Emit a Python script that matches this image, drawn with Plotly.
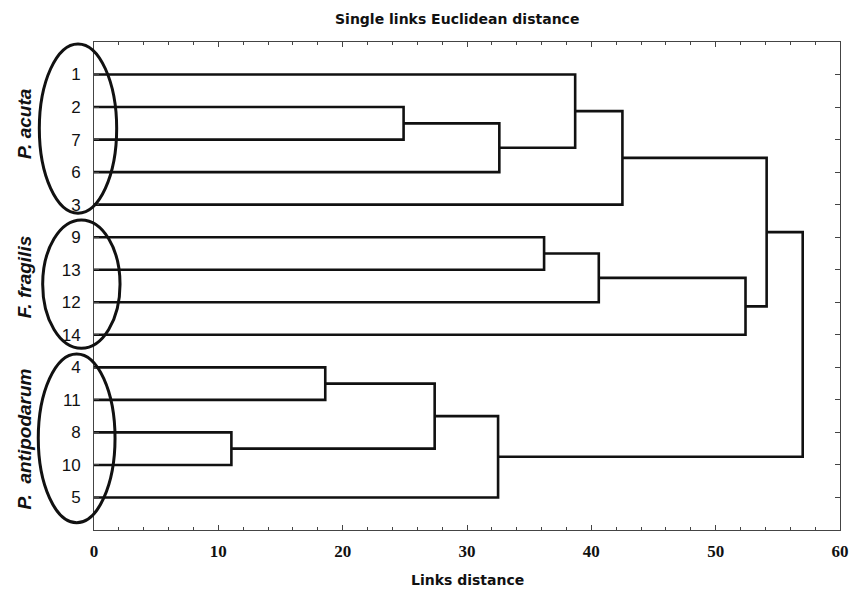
import plotly.graph_objects as go

# ---- data -------------------------------------------------------------
leaf_labels = ["1", "2", "7", "6", "3", "9", "13", "12", "14", "4", "11", "8", "10", "5"]
# merges: (left child, right child, link distance); nodes named n1..n13 in order
merge_left = ["2", "n1", "1", "n3", "9", "n5", "n6", "n4", "4", "8", "n9", "n11", "n8"]
merge_right = ["7", "6", "n2", "3", "13", "12", "14", "n7", "11", "10", "n10", "5", "n12"]
merge_height = [24.9, 32.6, 38.7, 42.5, 36.2, 40.6, 52.4, 54.1, 18.6, 11.05, 27.4, 32.5, 57.0]
group_names = ["P. acuta", "F. fragilis", "P.\u00a0 antipodarum"]
x_ticks = [0, 10, 20, 30, 40, 50, 60]

# ---- build dendrogram coordinates --------------------------------------
pos = {lab: (0.0, i + 1) for i, lab in enumerate(leaf_labels)}
xs, ys = [], []
for k, (a, b, h) in enumerate(zip(merge_left, merge_right, merge_height)):
    xa, ya = pos[a]
    xb, yb = pos[b]
    xs += [xa, h, h, xb, None]
    ys += [ya, ya, yb, yb, None]
    pos[f"n{k + 1}"] = (h, (ya + yb) / 2)

fig = go.Figure()
fig.add_trace(go.Scatter(x=xs, y=ys, mode="lines",
                         line=dict(color="#111111", width=2.6),
                         hoverinfo="skip", showlegend=False))

axis_col = "#444444"
fig.update_layout(
    width=860, height=590,
    margin=dict(l=94, r=20, t=42, b=60, autoexpand=False),
    plot_bgcolor="white", paper_bgcolor="white",
    showlegend=False,
    xaxis=dict(range=[0, 60], tickvals=x_ticks, ticks="inside", ticklen=5,
               tickwidth=1, tickcolor=axis_col,
               minor=dict(dtick=2, tick0=0, ticks="inside", ticklen=3,
                          tickwidth=1, tickcolor=axis_col),
               showline=True, linecolor=axis_col, linewidth=1, mirror="ticks",
               showgrid=False, zeroline=False, ticklabelstandoff=6,
               tickfont=dict(family="Liberation Serif", size=17, color="#111111",
                             weight="bold")),
    yaxis=dict(range=[15, 0], tickvals=list(range(1, len(leaf_labels) + 1)),
               ticktext=leaf_labels, ticks="inside", ticklen=5, tickwidth=1,
               tickcolor=axis_col, showline=True, linecolor=axis_col,
               linewidth=1, mirror="ticks", showgrid=False, zeroline=False,
               ticklabelstandoff=9,
               tickfont=dict(family="Liberation Sans", size=17, color="#111111")),
)

# titles
fig.add_annotation(text="Single links Euclidean distance", xref="paper", yref="paper",
                   x=0.4866, y=1.047, xanchor="center", yanchor="middle", showarrow=False,
                   font=dict(family="DejaVu Sans", size=14, color="#111111", weight="bold"))
fig.add_annotation(text="Links distance", xref="paper", yref="paper",
                   x=0.5, y=-0.103, xanchor="center", yanchor="middle", showarrow=False,
                   font=dict(family="DejaVu Sans", size=14, color="#111111", weight="bold"))

# group labels and ellipses
group_y = [0.833, 0.5174, 0.1865]
ellipses = [(-0.0733, 0.0304, 0.649, 0.996),
            (-0.0688, 0.0349, 0.3723, 0.6352),
            (-0.0747, 0.0282, 0.015, 0.3607)]
for name, gy, (ex0, ex1, ey0, ey1) in zip(group_names, group_y, ellipses):
    fig.add_annotation(text=name, xref="paper", yref="paper", x=-0.093, y=gy,
                       xanchor="center", yanchor="middle", textangle=-90,
                       showarrow=False,
                       font=dict(family="Liberation Sans", size=19, color="#111111",
                                 weight="bold", style="italic"))
    fig.add_shape(type="circle", xref="paper", yref="paper",
                  x0=ex0, x1=ex1, y0=ey0, y1=ey1,
                  line=dict(color="#111111", width=3))

fig.write_html("out.html", config={"displayModeBar": False},
               post_script="document.body.style.margin='0';")
